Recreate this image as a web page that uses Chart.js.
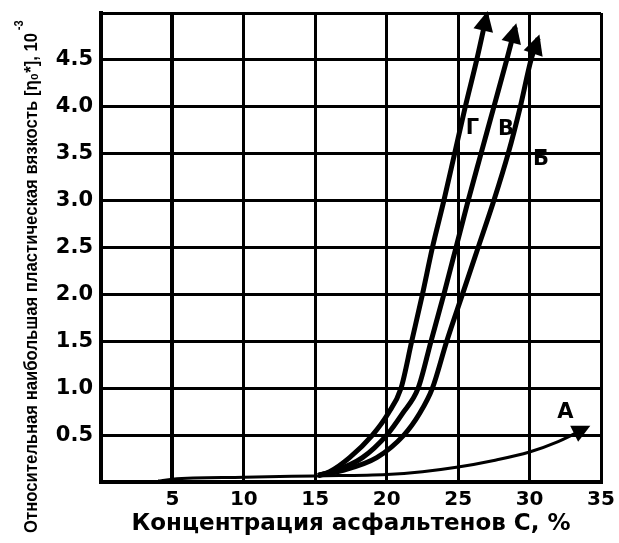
<!DOCTYPE html>
<html>
<head>
<meta charset="utf-8">
<script src="https://cdn.jsdelivr.net/npm/chart.js@4.4.1/dist/chart.umd.min.js"></script>
<style>
body{margin:0;background:#fff;}
#wrap{width:619px;height:543px;position:relative;}
</style>
</head>
<body>
<div id="wrap"><canvas id="viscChart"></canvas></div>
<script>
/* DATA */
const xTickLabels=[5,10,15,20,25,30,35];
const yTickLabels=[0.5,1.0,1.5,2.0,2.5,3.0,3.5,4.0,4.5];

// curve A
const concA=[4,5,10,15,20,22.5,25,27.5,30,32,34];
const viscA=[0.01,0.03,0.05,0.065,0.08,0.11,0.16,0.23,0.32,0.43,0.58];
// curve Б
const concB=[15.2,16.8,19.3,21.2,22.3,23.2,24.2,25.3,26.4,27.5,28.5,29.35,30.1,30.6];
const viscB=[0.07,0.12,0.26,0.5,0.73,1.0,1.5,2.0,2.5,3.0,3.5,4.0,4.5,4.73];
// curve В
const concV=[15.2,16.4,18.3,20.0,21.1,22.2,23.1,24.0,24.85,25.7,26.6,27.5,28.4,29.0];
const viscV=[0.07,0.12,0.26,0.5,0.73,1.0,1.5,2.0,2.5,3.0,3.5,4.0,4.5,4.85];
// curve Г
const concG=[15.2,16.0,17.4,19.0,20.1,21.0,21.75,22.5,23.2,24.0,24.75,25.5,26.3,27.0];
const viscG=[0.07,0.11,0.26,0.5,0.73,1.0,1.5,2.0,2.5,3.0,3.5,4.0,4.5,4.98];

const curveNames=['А','Б','В','Г'];

function toPoints(xs,ys){
return xs.map((x,i)=>({x:x,y:ys[i]}));
}

/* ARROW HEADS AT LINE ENDS */
const arrowHeads={
id:'arrowHeads',
afterDatasetsDraw(chart){
const ctx=chart.ctx;
chart.data.datasets.forEach((ds,i)=>{
const pts=chart.getDatasetMeta(i).data;
const a=pts[pts.length-2], b=pts[pts.length-1];
const ang=Math.atan2(b.y-a.y,b.x-a.x);
const big=ds.borderWidth>3;
ctx.save();
ctx.translate(b.x,b.y);
ctx.rotate(ang);
ctx.beginPath();
ctx.moveTo(4,0);
ctx.lineTo(big?-16:-14,big?-10:-9);
ctx.lineTo(big?-16:-14,big?10:9);
ctx.closePath();
ctx.fillStyle='#000';
ctx.fill();
ctx.restore();
});
}
};

/* CURVE LETTERS */
const labelAt={'А':[32.5,0.74],'Б':[30.8,3.44],'В':[28.35,3.76],'Г':[26.0,3.77]};
const curveLetters={
id:'curveLetters',
afterDatasetsDraw(chart){
const ctx=chart.ctx, sx=chart.scales.x, sy=chart.scales.y;
ctx.save();
ctx.font='bold 21px "DejaVu Sans", sans-serif';
ctx.fillStyle='#000';
ctx.textAlign='center';
ctx.textBaseline='middle';
curveNames.forEach(n=>{
const p=labelAt[n];
ctx.fillText(n,sx.getPixelForValue(p[0]),sy.getPixelForValue(p[1]));
});
ctx.restore();
}
};

/* ROTATED Y TITLE WITH SUPERSCRIPT (narrow bold) */
const yTitle={
id:'yTitle',
afterDraw(chart){
const ctx=chart.ctx;
const main='Относительная наибольшая пластическая вязкость [η₀*], 10';
ctx.save();
ctx.translate(37,533);
ctx.rotate(-Math.PI/2);
ctx.fillStyle='#000';
ctx.textBaseline='alphabetic';
ctx.textAlign='left';
ctx.font='bold 18px "Liberation Sans", sans-serif';
const w=ctx.measureText(main).width;
const k=500/w;
ctx.scale(k,1);
ctx.fillText(main,0,0);
ctx.font='bold 12px "Liberation Sans", sans-serif';
ctx.fillText('-3',w+3,-14);
ctx.restore();
}
};

/* LINE CHART */
const lineStyle={borderColor:'#000',pointRadius:0,cubicInterpolationMode:'monotone',fill:false};

const viscChart=new Chart(
document.getElementById('viscChart'),
{
type:'line',
data:{
datasets:[
Object.assign({label:curveNames[0],data:toPoints(concA,viscA),borderWidth:3},lineStyle),
Object.assign({label:curveNames[1],data:toPoints(concB,viscB),borderWidth:5},lineStyle),
Object.assign({label:curveNames[2],data:toPoints(concV,viscV),borderWidth:5},lineStyle),
Object.assign({label:curveNames[3],data:toPoints(concG,viscG),borderWidth:5},lineStyle)
]
},
options:{
responsive:true,
maintainAspectRatio:false,
animation:false,
layout:{padding:{top:13,right:18,left:0,bottom:0}},
plugins:{legend:{display:false},tooltip:{enabled:false}},
scales:{
x:{
type:'linear',
min:0,max:35,
afterFit(s){s.height=61;s.paddingLeft=0;s.paddingRight=0;},
border:{color:'#000',width:4},
grid:{
color:'#000',
drawTicks:false,
lineWidth:c=>(c.tick.value===5||c.tick.value===0)?4:3
},
ticks:{
stepSize:5,
padding:6,
color:'#000',
font:{family:'DejaVu Sans',weight:'bold',size:20},
callback:v=>xTickLabels.includes(v)?String(v):''
},
title:{
display:true,
text:'Концентрация асфальтенов С, %',
color:'#000',
font:{family:'DejaVu Sans',weight:'bold',size:23},
padding:{top:0,bottom:5}
}
},
y:{
min:0,max:5,
afterFit(s){s.width=101;s.paddingTop=0;s.paddingBottom=0;},
border:{color:'#000',width:4},
grid:{color:'#000',drawTicks:false,lineWidth:3},
ticks:{
stepSize:0.5,
padding:8,
color:'#000',
font:{family:'DejaVu Sans',weight:'bold',size:21},
callback:v=>yTickLabels.includes(v)?v.toFixed(1):''
}
}
}
},
plugins:[arrowHeads,curveLetters,yTitle]
}
);
</script>
</body>
</html>
